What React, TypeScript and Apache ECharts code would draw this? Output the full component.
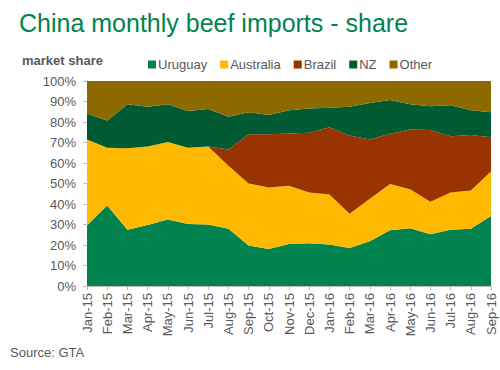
import React, { useEffect, useRef } from "react";
import * as echarts from "echarts";

const months = ["Jan-15","Feb-15","Mar-15","Apr-15","May-15","Jun-15","Jul-15","Aug-15","Sep-15","Oct-15","Nov-15","Dec-15","Jan-16","Feb-16","Mar-16","Apr-16","May-16","Jun-16","Jul-16","Aug-16","Sep-16"];
const uruguay = [29.5, 39.3, 27.5, 29.8, 32.5, 30.3, 30, 27.9, 19.8, 18, 20.5, 20.8, 20.3, 18.5, 21.8, 27.2, 28.2, 25.2, 27.4, 27.9, 34.1];
const australia = [42, 28.2, 39.7, 38.2, 37.7, 37.2, 38, 30.8, 30.2, 30, 28.4, 24.8, 24.3, 16.7, 20.8, 22.6, 19, 15.9, 18.2, 18.7, 21.8];
const brazil = [0, 0, 0, 0, 0, 0, 0, 7.9, 24, 26, 25.5, 29.2, 32.9, 38.2, 28.9, 24.5, 29.2, 35, 27.4, 27, 16.7];
const nz = [12.6, 13.2, 21.5, 19.4, 18.5, 17.9, 18.4, 16, 10.8, 9.4, 11.3, 11.8, 9.5, 14, 17.8, 16.4, 12.3, 11.6, 15.2, 12.1, 12.2];
const other = [15.9, 19.3, 11.3, 12.6, 11.3, 14.6, 13.6, 17.4, 15.2, 16.6, 14.3, 13.4, 13, 12.6, 10.7, 9.3, 11.3, 12.3, 11.8, 14.3, 15.2];

const seriesNames = ["Uruguay", "Australia", "Brazil", "NZ", "Other"];
const seriesColors = ["#00834F", "#FFB900", "#993300", "#005A32", "#8C6A00"];
const seriesData = [uruguay, australia, brazil, nz, other];

export default function App() {
  const ref = useRef<HTMLDivElement>(null);
  useEffect(() => {
    if (!ref.current) return;
    const chart = echarts.init(ref.current, undefined, { renderer: "svg" });
    const font = "Liberation Sans, Arial, sans-serif";
    chart.setOption({
      animation: false,
      textStyle: { fontFamily: font },
      title: [
        {
          text: "China monthly beef imports - share",
          left: 19,
          top: 10,
          padding: 0,
          textStyle: { fontSize: 25, fontWeight: "normal", color: "#00834F", fontFamily: font },
        },
        {
          text: "market share",
          left: 22,
          top: 54,
          padding: 0,
          textStyle: { fontSize: 13, fontWeight: "bold", color: "#595959", fontFamily: font },
        },
        {
          text: "Source: GTA",
          left: 10,
          top: 346,
          padding: 0,
          textStyle: { fontSize: 13, fontWeight: "normal", color: "#595959", fontFamily: font },
        },
      ],
      legend: {
        top: 58,
        left: 148,
        padding: 0,
        itemWidth: 8,
        itemHeight: 8,
        itemGap: 13,
        icon: "rect",
        textStyle: { fontSize: 13, color: "#595959", padding: [0, 0, 0, -3] },
        data: seriesNames,
      },
      grid: { left: 87, right: 9, top: 81, bottom: 84, containLabel: false },
      xAxis: {
        type: "category",
        boundaryGap: false,
        data: months,
        axisLine: { lineStyle: { color: "#BFBFBF" } },
        axisTick: { show: true, alignWithLabel: true, length: 4, lineStyle: { color: "#BFBFBF" } },
        axisLabel: { rotate: 90, fontSize: 13, color: "#595959", interval: 0, margin: 7 },
      },
      yAxis: {
        type: "value",
        min: 0,
        max: 100,
        interval: 10,
        axisLine: { show: true, lineStyle: { color: "#BFBFBF" } },
        axisTick: { show: true, length: 4, lineStyle: { color: "#BFBFBF" } },
        splitLine: { show: false },
        axisLabel: { fontSize: 13, color: "#595959", formatter: "{value}%", margin: 11 },
      },
      series: seriesNames.map((name, i) => ({
        name,
        type: "line",
        stack: "total",
        data: seriesData[i],
        symbol: "none",
        lineStyle: { width: 0 },
        areaStyle: { color: seriesColors[i], opacity: 1 },
        itemStyle: { color: seriesColors[i] },
      })),
    });
    return () => chart.dispose();
  }, []);
  return (
    <div
      ref={ref}
      style={{ position: "absolute", left: 0, top: 0, width: 500, height: 370 }}
    />
  );
}
